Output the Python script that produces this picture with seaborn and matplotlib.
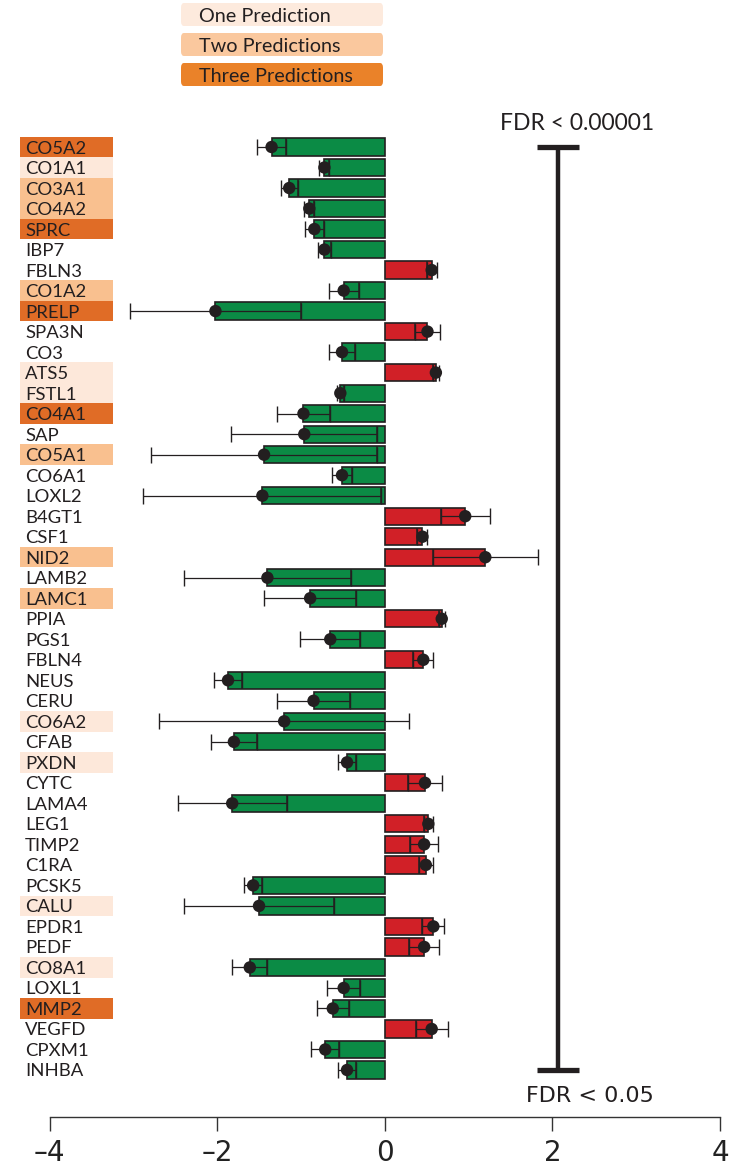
import matplotlib
matplotlib.use("Agg")
import matplotlib.pyplot as plt
import matplotlib.transforms as mtransforms
from matplotlib.patches import Rectangle, FancyBboxPatch
import numpy as np
import pandas as pd
import seaborn as sns

# Proteins, ordered top to bottom
genes = ["CO5A2", "CO1A1", "CO3A1", "CO4A2", "SPRC", "IBP7", "FBLN3", "CO1A2",
         "PRELP", "SPA3N", "CO3", "ATS5", "FSTL1", "CO4A1", "SAP", "CO5A1",
         "CO6A1", "LOXL2", "B4GT1", "CSF1", "NID2", "LAMB2", "LAMC1", "PPIA",
         "PGS1", "FBLN4", "NEUS", "CERU", "CO6A2", "CFAB", "PXDN", "CYTC",
         "LAMA4", "LEG1", "TIMP2", "C1RA", "PCSK5", "CALU", "EPDR1", "PEDF",
         "CO8A1", "LOXL1", "MMP2", "VEGFD", "CPXM1", "INHBA"]

# Log fold change and its error
log_fc = [-1.35, -0.72, -1.14, -0.90, -0.84, -0.72, 0.56, -0.49,
          -2.02, 0.51, -0.51, 0.61, -0.53, -0.97, -0.96, -1.44,
          -0.51, -1.46, 0.96, 0.45, 1.20, -1.40, -0.89, 0.68,
          -0.65, 0.46, -1.87, -0.85, -1.20, -1.80, -0.45, 0.48,
          -1.82, 0.52, 0.47, 0.49, -1.57, -1.50, 0.58, 0.47,
          -1.61, -0.49, -0.62, 0.56, -0.71, -0.45]
fc_err = [0.17, 0.06, 0.10, 0.06, 0.11, 0.08, 0.06, 0.18,
          1.02, 0.15, 0.16, 0.04, 0.04, 0.32, 0.87, 1.35,
          0.12, 1.42, 0.29, 0.06, 0.63, 1.00, 0.55, 0.035,
          0.36, 0.12, 0.17, 0.43, 1.49, 0.27, 0.11, 0.20,
          0.65, 0.05, 0.17, 0.08, 0.11, 0.89, 0.13, 0.18,
          0.21, 0.20, 0.19, 0.19, 0.17, 0.11]

# Number of predictions supporting each protein (0 = none)
n_predictions = [3, 1, 2, 2, 3, 0, 0, 2, 3, 0, 0, 1, 1, 3, 0, 2,
                 0, 0, 0, 0, 2, 0, 2, 0, 0, 0, 0, 0, 1, 0, 1, 0,
                 0, 0, 0, 0, 0, 1, 0, 0, 1, 0, 3, 0, 0, 0]

legend_labels = ["One Prediction", "Two Predictions", "Three Predictions"]
axis_ticks = [-4, -2, 0, 2, 4]
fdr_labels = ["FDR < 0.00001", "FDR < 0.05"]

label_fill = {1: "#FDE8DA", 2: "#F9C08F", 3: "#E06C26"}
legend_fill = ["#FDEADD", "#FAC89E", "#EA8229"]
bar_colors = {"down": "#0B8B45", "up": "#D12027"}
ink = "#231F20"
narrow = ["Liberation Sans Narrow", "DejaVu Sans"]

df = pd.DataFrame({"gene": genes, "log_fc": log_fc, "err": fc_err})
df["direction"] = np.where(df["log_fc"] < 0, "down", "up")

sns.set_style("white")
plt.rcParams["font.family"] = ["Lato", "DejaVu Sans"]

W, H = 751, 1168
fig = plt.figure(figsize=(W / 100, H / 100), dpi=100)

# Axes geometry (pixels): x -4..4 -> 49.5..720, rows 0..45 -> 147..1070
row_px = (1070 - 147) / 45
ax_left, ax_right = 49.5, 720
ax_bottom_px = 1117
ax_top_px = 147 - 1.0 * row_px
ax = fig.add_axes([ax_left / W, 1 - ax_bottom_px / H,
                   (ax_right - ax_left) / W, (ax_bottom_px - ax_top_px) / H])

bar_h = 0.84
sns.barplot(data=df, x="log_fc", y="gene", hue="direction", order=genes,
            palette=bar_colors, saturation=1, dodge=False, legend=False,
            errorbar=None, width=bar_h, edgecolor=ink, linewidth=1.2,
            ax=ax, zorder=2)

ypos = np.arange(len(genes))
vals = df["log_fc"].to_numpy()
errs = df["err"].to_numpy()

# Symmetric error bars around each mean
ax.errorbar(vals, ypos, xerr=errs, fmt="none", ecolor=ink, elinewidth=0.9,
            capsize=6, capthick=1.0, zorder=3)
# Where the inner end of the error bar falls inside the bar, mark it across the bar
inner = vals - np.sign(vals) * errs
inside = np.abs(vals) > errs
ax.vlines(inner[inside], ypos[inside] - bar_h / 2, ypos[inside] + bar_h / 2,
          color=ink, linewidth=1.1, zorder=3)
sns.scatterplot(x=vals, y=ypos, color=ink, s=80, edgecolor="none", ax=ax,
                zorder=4, legend=False)

# FDR range bracket
fdr_x = 2.07
ax.plot([fdr_x, fdr_x], [0, 45], color=ink, linewidth=3.2, solid_capstyle="butt", zorder=2)
ax.hlines([0, 45], fdr_x - 0.25, fdr_x + 0.25, color=ink, linewidth=3.8, zorder=2)

ax.set_xlim(-4, 4)
ax.set_ylim(45 + (ax_bottom_px - 1070) / row_px, -1.0)
ax.set_xticks(axis_ticks)
ax.set_xticklabels([f"{t}".replace("-", "\u2013") for t in axis_ticks],
                   fontsize=20, family=narrow, color="#222222")
ax.tick_params(axis="x", direction="out", length=10, width=1.0, color="#333333",
               pad=6, bottom=True)
ax.set_xlabel("")
ax.set_ylabel("")

ax.set_yticks(ypos)
ax.set_yticklabels(genes, fontsize=13.3, color="#231F20")
ax.tick_params(axis="y", length=0, pad=17.6, left=False)
for lab in ax.get_yticklabels():
    lab.set_horizontalalignment("left")

for side in ["top", "right", "left"]:
    ax.spines[side].set_visible(False)
ax.spines["bottom"].set_color("#333333")
ax.spines["bottom"].set_linewidth(1.0)

# Highlight boxes behind gene labels
trans = mtransforms.blended_transform_factory(fig.transFigure, ax.transData)
for i, n in enumerate(n_predictions):
    if n:
        ax.add_patch(Rectangle((20 / W, i - 0.5), 93 / W, 1.0, transform=trans,
                               facecolor=label_fill[n], edgecolor="none",
                               clip_on=False, zorder=0))

# Legend of prediction counts
for k, (txt, col) in enumerate(zip(legend_labels, legend_fill)):
    top = 3 + k * 30
    fig.patches.append(FancyBboxPatch((181 / W, 1 - (top + 23) / H), 202 / W, 23 / H,
                                      boxstyle="round,pad=0,rounding_size=0.004",
                                      transform=fig.transFigure, facecolor=col,
                                      edgecolor="none"))
    fig.text(199 / W, 1 - (top + 13) / H, txt, fontsize=14.3, color="#231F20",
             ha="left", va="center")

fig.text(577 / W, 1 - 123 / H, fdr_labels[0], fontsize=16.5, color="#231F20",
         ha="center", va="center")
fig.text(590 / W, 1 - 1096 / H, fdr_labels[1], fontsize=16, color="#231F20",
         ha="center", va="center", family=narrow)

fig.savefig("out.png", dpi=100, facecolor="white")
